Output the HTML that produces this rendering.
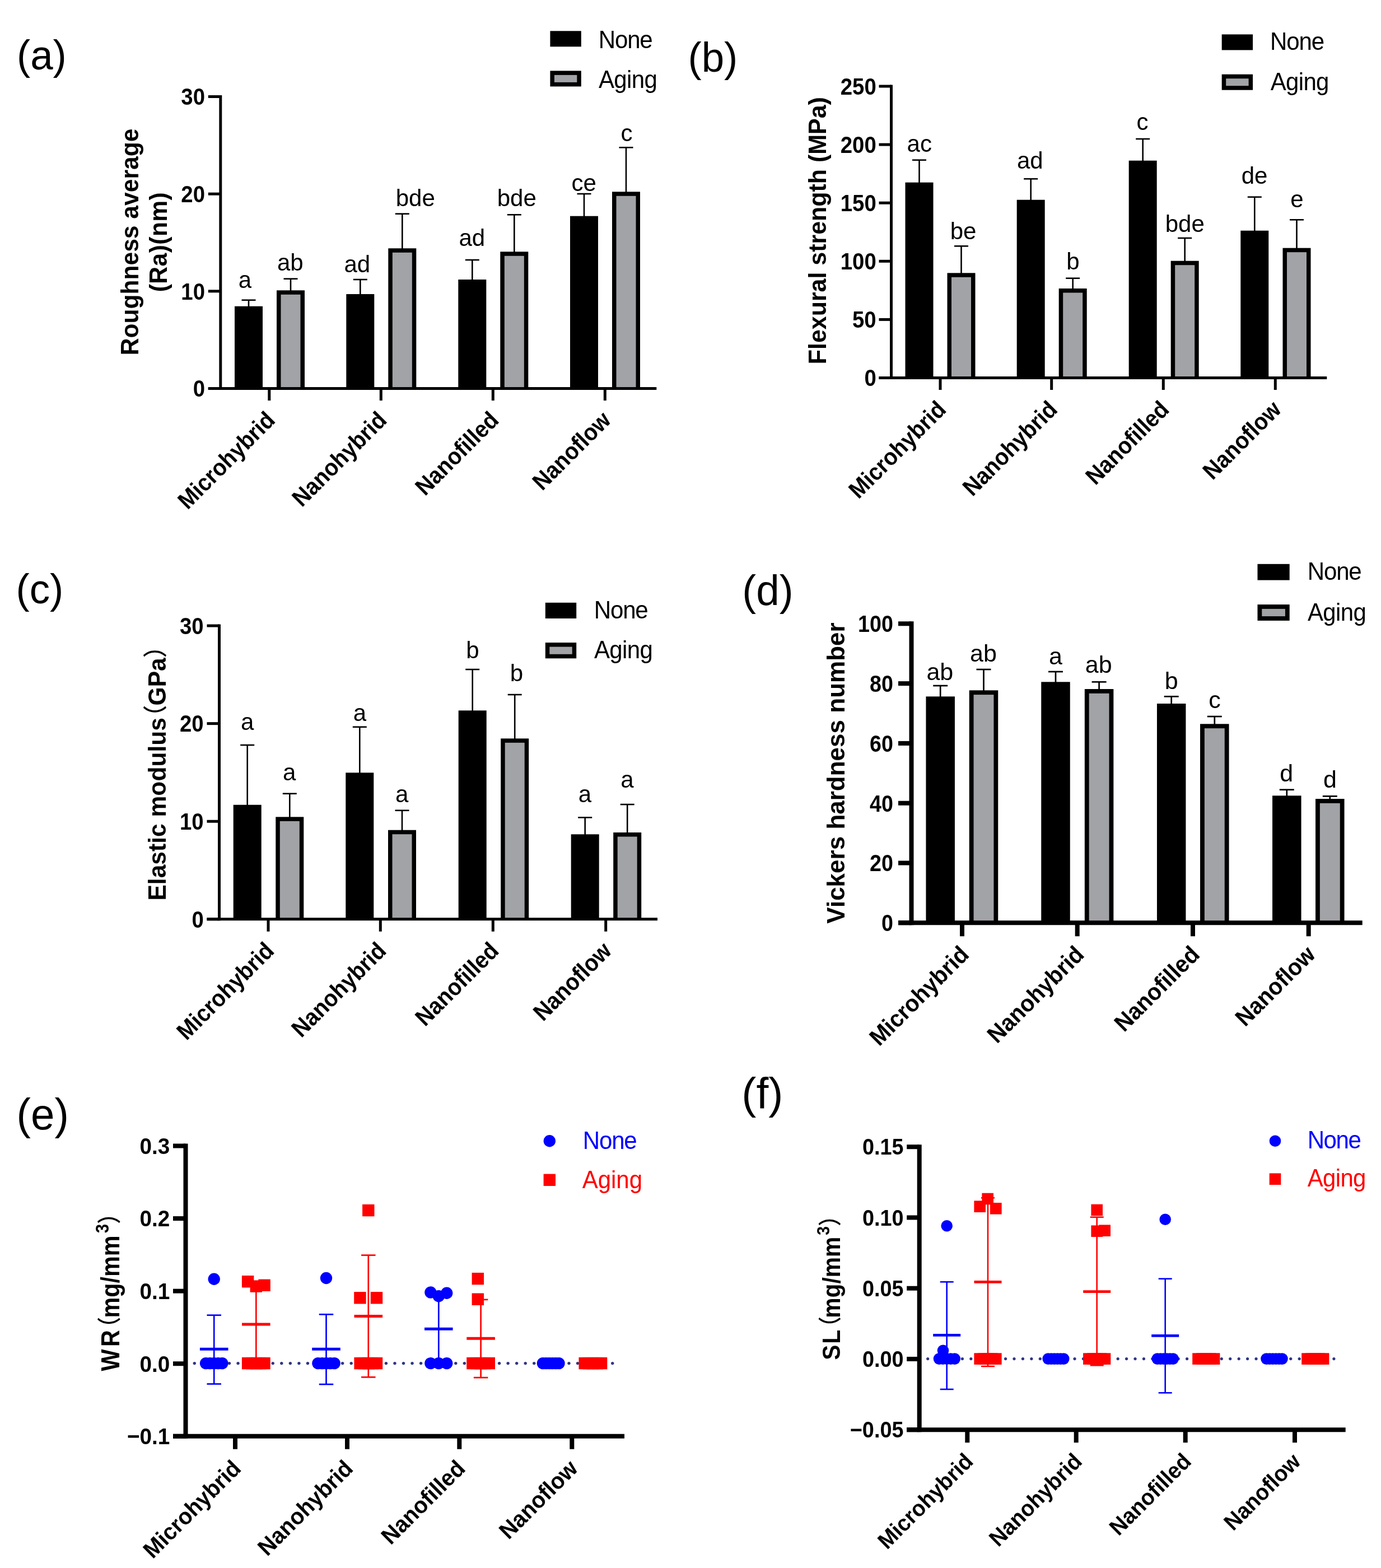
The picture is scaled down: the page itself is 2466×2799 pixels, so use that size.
<!DOCTYPE html>
<html lang="en">
<head>
<meta charset="utf-8">
<title>Figure: mechanical properties of resin composites before and after aging</title>
<style>
html,body{margin:0;padding:0;background:#fff;}
body{width:2466px;height:2799px;overflow:hidden;}
svg{display:block;}
svg text{font-family:'Liberation Sans', 'Noto Sans CJK SC', sans-serif;}
</style>
</head>
<body>
<svg width="2466" height="2799" viewBox="0 0 2466 2799">
<rect x="0" y="0" width="2466" height="2799" fill="#ffffff"/>
<line x1="444.00" y1="535.70" x2="444.00" y2="548.70" stroke="#000" stroke-width="2.6" stroke-linecap="butt"/>
<line x1="431.50" y1="535.70" x2="456.50" y2="535.70" stroke="#000" stroke-width="2.6" stroke-linecap="butt"/>
<rect x="419.00" y="546.70" width="50.00" height="146.80" fill="#000"/>
<text transform="translate(437.50,513.80)" font-size="42" font-weight="normal" text-anchor="middle" fill="#000">a</text>
<line x1="519.00" y1="497.70" x2="519.00" y2="520.30" stroke="#000" stroke-width="2.6" stroke-linecap="butt"/>
<line x1="506.50" y1="497.70" x2="531.50" y2="497.70" stroke="#000" stroke-width="2.6" stroke-linecap="butt"/>
<rect x="494.00" y="518.30" width="50.00" height="175.20" fill="#000"/>
<rect x="501.50" y="525.80" width="35.00" height="167.70" fill="#a2a3a7"/>
<text transform="translate(518.30,482.80)" font-size="42" font-weight="normal" text-anchor="middle" fill="#000">ab</text>
<line x1="643.30" y1="499.00" x2="643.30" y2="527.00" stroke="#000" stroke-width="2.6" stroke-linecap="butt"/>
<line x1="630.80" y1="499.00" x2="655.80" y2="499.00" stroke="#000" stroke-width="2.6" stroke-linecap="butt"/>
<rect x="618.30" y="525.00" width="50.00" height="168.50" fill="#000"/>
<text transform="translate(637.80,485.50)" font-size="42" font-weight="normal" text-anchor="middle" fill="#000">ad</text>
<line x1="718.30" y1="381.70" x2="718.30" y2="445.30" stroke="#000" stroke-width="2.6" stroke-linecap="butt"/>
<line x1="705.80" y1="381.70" x2="730.80" y2="381.70" stroke="#000" stroke-width="2.6" stroke-linecap="butt"/>
<rect x="693.30" y="443.30" width="50.00" height="250.20" fill="#000"/>
<rect x="700.80" y="450.80" width="35.00" height="242.70" fill="#a2a3a7"/>
<text transform="translate(741.70,368.20)" font-size="42" font-weight="normal" text-anchor="middle" fill="#000">bde</text>
<line x1="843.30" y1="464.00" x2="843.30" y2="501.00" stroke="#000" stroke-width="2.6" stroke-linecap="butt"/>
<line x1="830.80" y1="464.00" x2="855.80" y2="464.00" stroke="#000" stroke-width="2.6" stroke-linecap="butt"/>
<rect x="818.30" y="499.00" width="50.00" height="194.50" fill="#000"/>
<text transform="translate(842.80,438.80)" font-size="42" font-weight="normal" text-anchor="middle" fill="#000">ad</text>
<line x1="918.30" y1="383.30" x2="918.30" y2="451.30" stroke="#000" stroke-width="2.6" stroke-linecap="butt"/>
<line x1="905.80" y1="383.30" x2="930.80" y2="383.30" stroke="#000" stroke-width="2.6" stroke-linecap="butt"/>
<rect x="893.30" y="449.30" width="50.00" height="244.20" fill="#000"/>
<rect x="900.80" y="456.80" width="35.00" height="236.70" fill="#a2a3a7"/>
<text transform="translate(922.70,368.20)" font-size="42" font-weight="normal" text-anchor="middle" fill="#000">bde</text>
<line x1="1043.00" y1="346.00" x2="1043.00" y2="387.70" stroke="#000" stroke-width="2.6" stroke-linecap="butt"/>
<line x1="1030.50" y1="346.00" x2="1055.50" y2="346.00" stroke="#000" stroke-width="2.6" stroke-linecap="butt"/>
<rect x="1018.00" y="385.70" width="50.00" height="307.80" fill="#000"/>
<text transform="translate(1042.70,340.50)" font-size="42" font-weight="normal" text-anchor="middle" fill="#000">ce</text>
<line x1="1118.00" y1="263.30" x2="1118.00" y2="344.30" stroke="#000" stroke-width="2.6" stroke-linecap="butt"/>
<line x1="1105.50" y1="263.30" x2="1130.50" y2="263.30" stroke="#000" stroke-width="2.6" stroke-linecap="butt"/>
<rect x="1093.00" y="342.30" width="50.00" height="351.20" fill="#000"/>
<rect x="1100.50" y="349.80" width="35.00" height="343.70" fill="#a2a3a7"/>
<text transform="translate(1119.00,252.20)" font-size="42" font-weight="normal" text-anchor="middle" fill="#000">c</text>
<line x1="393.80" y1="170.00" x2="393.80" y2="696.00" stroke="#000" stroke-width="5" stroke-linecap="butt"/>
<line x1="371.80" y1="693.50" x2="1172.30" y2="693.50" stroke="#000" stroke-width="5" stroke-linecap="butt"/>
<line x1="371.80" y1="693.50" x2="393.80" y2="693.50" stroke="#000" stroke-width="5" stroke-linecap="butt"/>
<text transform="translate(366.00,708.30) scale(0.9060,1)" font-size="42.3" font-weight="bold" text-anchor="end" fill="#000">0</text>
<line x1="371.80" y1="519.83" x2="393.80" y2="519.83" stroke="#000" stroke-width="5" stroke-linecap="butt"/>
<text transform="translate(366.00,534.64) scale(0.9060,1)" font-size="42.3" font-weight="bold" text-anchor="end" fill="#000">10</text>
<line x1="371.80" y1="346.17" x2="393.80" y2="346.17" stroke="#000" stroke-width="5" stroke-linecap="butt"/>
<text transform="translate(366.00,360.97) scale(0.9060,1)" font-size="42.3" font-weight="bold" text-anchor="end" fill="#000">20</text>
<line x1="371.80" y1="172.50" x2="393.80" y2="172.50" stroke="#000" stroke-width="5" stroke-linecap="butt"/>
<text transform="translate(366.00,187.31) scale(0.9060,1)" font-size="42.3" font-weight="bold" text-anchor="end" fill="#000">30</text>
<line x1="480.80" y1="693.50" x2="480.80" y2="715.00" stroke="#000" stroke-width="5" stroke-linecap="butt"/>
<text transform="translate(493.50,752.50) rotate(-45) scale(0.9270,1)" font-size="42.3" font-weight="bold" text-anchor="end" fill="#000">Microhybrid</text>
<line x1="680.30" y1="693.50" x2="680.30" y2="715.00" stroke="#000" stroke-width="5" stroke-linecap="butt"/>
<text transform="translate(693.00,752.50) rotate(-45) scale(0.9270,1)" font-size="42.3" font-weight="bold" text-anchor="end" fill="#000">Nanohybrid</text>
<line x1="880.30" y1="693.50" x2="880.30" y2="715.00" stroke="#000" stroke-width="5" stroke-linecap="butt"/>
<text transform="translate(893.00,752.50) rotate(-45) scale(0.9270,1)" font-size="42.3" font-weight="bold" text-anchor="end" fill="#000">Nanofilled</text>
<line x1="1080.30" y1="693.50" x2="1080.30" y2="715.00" stroke="#000" stroke-width="5" stroke-linecap="butt"/>
<text transform="translate(1093.00,752.50) rotate(-45) scale(0.9270,1)" font-size="42.3" font-weight="bold" text-anchor="end" fill="#000">Nanoflow</text>
<text transform="translate(247.00,432.00) rotate(-90) scale(0.9570,1)" font-size="44.5" font-weight="bold" text-anchor="middle" fill="#000">Roughness average</text>
<text transform="translate(298.00,432.00) rotate(-90) scale(0.9570,1)" font-size="44.5" font-weight="bold" text-anchor="middle" fill="#000"><tspan letter-spacing="0.45">(Ra)(nm)</tspan></text>
<text transform="translate(30.00,123.60) scale(0.9730,1)" font-size="74.7" font-weight="normal" text-anchor="start" fill="#000">(a)</text>
<rect x="982.40" y="55.30" width="55.4" height="28" fill="#000"/>
<rect x="986.15" y="130.15" width="47.9" height="20.5" fill="#a2a3a7" stroke="#000" stroke-width="7.5"/>
<text transform="translate(1068.70,85.70) scale(0.9270,1)" font-size="45.3" font-weight="normal" text-anchor="start" fill="#000" letter-spacing="-1.2">None</text>
<text transform="translate(1069.00,156.70) scale(0.9270,1)" font-size="45.3" font-weight="normal" text-anchor="start" fill="#000" letter-spacing="-0.7">Aging</text>
<line x1="1641.50" y1="285.70" x2="1641.50" y2="327.70" stroke="#000" stroke-width="2.6" stroke-linecap="butt"/>
<line x1="1629.00" y1="285.70" x2="1654.00" y2="285.70" stroke="#000" stroke-width="2.6" stroke-linecap="butt"/>
<rect x="1616.50" y="325.70" width="50.00" height="348.80" fill="#000"/>
<text transform="translate(1641.70,270.50)" font-size="42" font-weight="normal" text-anchor="middle" fill="#000">ac</text>
<line x1="1716.50" y1="439.30" x2="1716.50" y2="489.30" stroke="#000" stroke-width="2.6" stroke-linecap="butt"/>
<line x1="1704.00" y1="439.30" x2="1729.00" y2="439.30" stroke="#000" stroke-width="2.6" stroke-linecap="butt"/>
<rect x="1691.50" y="487.30" width="50.00" height="187.20" fill="#000"/>
<rect x="1699.00" y="494.80" width="35.00" height="179.70" fill="#a2a3a7"/>
<text transform="translate(1720.00,427.20)" font-size="42" font-weight="normal" text-anchor="middle" fill="#000">be</text>
<line x1="1840.70" y1="319.30" x2="1840.70" y2="358.70" stroke="#000" stroke-width="2.6" stroke-linecap="butt"/>
<line x1="1828.20" y1="319.30" x2="1853.20" y2="319.30" stroke="#000" stroke-width="2.6" stroke-linecap="butt"/>
<rect x="1815.70" y="356.70" width="50.00" height="317.80" fill="#000"/>
<text transform="translate(1839.30,300.50)" font-size="42" font-weight="normal" text-anchor="middle" fill="#000">ad</text>
<line x1="1915.70" y1="496.70" x2="1915.70" y2="517.00" stroke="#000" stroke-width="2.6" stroke-linecap="butt"/>
<line x1="1903.20" y1="496.70" x2="1928.20" y2="496.70" stroke="#000" stroke-width="2.6" stroke-linecap="butt"/>
<rect x="1890.70" y="515.00" width="50.00" height="159.50" fill="#000"/>
<rect x="1898.20" y="522.50" width="35.00" height="152.00" fill="#a2a3a7"/>
<text transform="translate(1916.00,480.50)" font-size="42" font-weight="normal" text-anchor="middle" fill="#000">b</text>
<line x1="2040.70" y1="248.00" x2="2040.70" y2="288.70" stroke="#000" stroke-width="2.6" stroke-linecap="butt"/>
<line x1="2028.20" y1="248.00" x2="2053.20" y2="248.00" stroke="#000" stroke-width="2.6" stroke-linecap="butt"/>
<rect x="2015.70" y="286.70" width="50.00" height="387.80" fill="#000"/>
<text transform="translate(2040.00,231.50)" font-size="42" font-weight="normal" text-anchor="middle" fill="#000">c</text>
<line x1="2115.70" y1="425.00" x2="2115.70" y2="467.70" stroke="#000" stroke-width="2.6" stroke-linecap="butt"/>
<line x1="2103.20" y1="425.00" x2="2128.20" y2="425.00" stroke="#000" stroke-width="2.6" stroke-linecap="butt"/>
<rect x="2090.70" y="465.70" width="50.00" height="208.80" fill="#000"/>
<rect x="2098.20" y="473.20" width="35.00" height="201.30" fill="#a2a3a7"/>
<text transform="translate(2115.70,413.80)" font-size="42" font-weight="normal" text-anchor="middle" fill="#000">bde</text>
<line x1="2240.30" y1="351.70" x2="2240.30" y2="413.70" stroke="#000" stroke-width="2.6" stroke-linecap="butt"/>
<line x1="2227.80" y1="351.70" x2="2252.80" y2="351.70" stroke="#000" stroke-width="2.6" stroke-linecap="butt"/>
<rect x="2215.30" y="411.70" width="50.00" height="262.80" fill="#000"/>
<text transform="translate(2240.00,328.20)" font-size="42" font-weight="normal" text-anchor="middle" fill="#000">de</text>
<line x1="2315.50" y1="392.30" x2="2315.50" y2="444.70" stroke="#000" stroke-width="2.6" stroke-linecap="butt"/>
<line x1="2303.00" y1="392.30" x2="2328.00" y2="392.30" stroke="#000" stroke-width="2.6" stroke-linecap="butt"/>
<rect x="2290.50" y="442.70" width="50.00" height="231.80" fill="#000"/>
<rect x="2298.00" y="450.20" width="35.00" height="224.30" fill="#a2a3a7"/>
<text transform="translate(2316.00,369.80)" font-size="42" font-weight="normal" text-anchor="middle" fill="#000">e</text>
<line x1="1591.50" y1="151.50" x2="1591.50" y2="677.00" stroke="#000" stroke-width="5" stroke-linecap="butt"/>
<line x1="1569.50" y1="674.50" x2="2369.30" y2="674.50" stroke="#000" stroke-width="5" stroke-linecap="butt"/>
<line x1="1569.50" y1="674.50" x2="1591.50" y2="674.50" stroke="#000" stroke-width="5" stroke-linecap="butt"/>
<text transform="translate(1564.70,689.30) scale(0.9060,1)" font-size="42.3" font-weight="bold" text-anchor="end" fill="#000">0</text>
<line x1="1569.50" y1="570.40" x2="1591.50" y2="570.40" stroke="#000" stroke-width="5" stroke-linecap="butt"/>
<text transform="translate(1564.70,585.20) scale(0.9060,1)" font-size="42.3" font-weight="bold" text-anchor="end" fill="#000">50</text>
<line x1="1569.50" y1="466.30" x2="1591.50" y2="466.30" stroke="#000" stroke-width="5" stroke-linecap="butt"/>
<text transform="translate(1564.70,481.11) scale(0.9060,1)" font-size="42.3" font-weight="bold" text-anchor="end" fill="#000">100</text>
<line x1="1569.50" y1="362.20" x2="1591.50" y2="362.20" stroke="#000" stroke-width="5" stroke-linecap="butt"/>
<text transform="translate(1564.70,377.00) scale(0.9060,1)" font-size="42.3" font-weight="bold" text-anchor="end" fill="#000">150</text>
<line x1="1569.50" y1="258.10" x2="1591.50" y2="258.10" stroke="#000" stroke-width="5" stroke-linecap="butt"/>
<text transform="translate(1564.70,272.91) scale(0.9060,1)" font-size="42.3" font-weight="bold" text-anchor="end" fill="#000">200</text>
<line x1="1569.50" y1="154.00" x2="1591.50" y2="154.00" stroke="#000" stroke-width="5" stroke-linecap="butt"/>
<text transform="translate(1564.70,168.81) scale(0.9060,1)" font-size="42.3" font-weight="bold" text-anchor="end" fill="#000">250</text>
<line x1="1679.00" y1="674.50" x2="1679.00" y2="696.00" stroke="#000" stroke-width="5" stroke-linecap="butt"/>
<text transform="translate(1691.70,733.50) rotate(-45) scale(0.9270,1)" font-size="42.3" font-weight="bold" text-anchor="end" fill="#000">Microhybrid</text>
<line x1="1877.70" y1="674.50" x2="1877.70" y2="696.00" stroke="#000" stroke-width="5" stroke-linecap="butt"/>
<text transform="translate(1890.40,733.50) rotate(-45) scale(0.9270,1)" font-size="42.3" font-weight="bold" text-anchor="end" fill="#000">Nanohybrid</text>
<line x1="2077.30" y1="674.50" x2="2077.30" y2="696.00" stroke="#000" stroke-width="5" stroke-linecap="butt"/>
<text transform="translate(2090.00,733.50) rotate(-45) scale(0.9270,1)" font-size="42.3" font-weight="bold" text-anchor="end" fill="#000">Nanofilled</text>
<line x1="2277.30" y1="674.50" x2="2277.30" y2="696.00" stroke="#000" stroke-width="5" stroke-linecap="butt"/>
<text transform="translate(2290.00,733.50) rotate(-45) scale(0.9270,1)" font-size="42.3" font-weight="bold" text-anchor="end" fill="#000">Nanoflow</text>
<text transform="translate(1475.00,411.70) rotate(-90) scale(0.9650,1)" font-size="44.5" font-weight="bold" text-anchor="middle" fill="#000">Flexural strength (MPa)</text>
<text transform="translate(1228.50,127.80) scale(0.9730,1)" font-size="74.7" font-weight="normal" text-anchor="start" fill="#000">(b)</text>
<rect x="2181.70" y="61.40" width="55.4" height="28" fill="#000"/>
<rect x="2185.45" y="136.45" width="47.9" height="20.5" fill="#a2a3a7" stroke="#000" stroke-width="7.5"/>
<text transform="translate(2268.00,89.30) scale(0.9270,1)" font-size="45.3" font-weight="normal" text-anchor="start" fill="#000" letter-spacing="-1.2">None</text>
<text transform="translate(2268.70,160.70) scale(0.9270,1)" font-size="45.3" font-weight="normal" text-anchor="start" fill="#000" letter-spacing="-0.7">Aging</text>
<line x1="441.70" y1="1330.00" x2="441.70" y2="1438.70" stroke="#000" stroke-width="2.6" stroke-linecap="butt"/>
<line x1="429.20" y1="1330.00" x2="454.20" y2="1330.00" stroke="#000" stroke-width="2.6" stroke-linecap="butt"/>
<rect x="416.70" y="1436.70" width="50.00" height="204.10" fill="#000"/>
<text transform="translate(441.70,1302.80)" font-size="42" font-weight="normal" text-anchor="middle" fill="#000">a</text>
<line x1="517.30" y1="1416.70" x2="517.30" y2="1460.30" stroke="#000" stroke-width="2.6" stroke-linecap="butt"/>
<line x1="504.80" y1="1416.70" x2="529.80" y2="1416.70" stroke="#000" stroke-width="2.6" stroke-linecap="butt"/>
<rect x="492.30" y="1458.30" width="50.00" height="182.50" fill="#000"/>
<rect x="499.80" y="1465.80" width="35.00" height="175.00" fill="#a2a3a7"/>
<text transform="translate(516.70,1392.80)" font-size="42" font-weight="normal" text-anchor="middle" fill="#000">a</text>
<line x1="642.30" y1="1297.70" x2="642.30" y2="1381.30" stroke="#000" stroke-width="2.6" stroke-linecap="butt"/>
<line x1="629.80" y1="1297.70" x2="654.80" y2="1297.70" stroke="#000" stroke-width="2.6" stroke-linecap="butt"/>
<rect x="617.30" y="1379.30" width="50.00" height="261.50" fill="#000"/>
<text transform="translate(642.30,1287.20)" font-size="42" font-weight="normal" text-anchor="middle" fill="#000">a</text>
<line x1="718.00" y1="1446.70" x2="718.00" y2="1483.70" stroke="#000" stroke-width="2.6" stroke-linecap="butt"/>
<line x1="705.50" y1="1446.70" x2="730.50" y2="1446.70" stroke="#000" stroke-width="2.6" stroke-linecap="butt"/>
<rect x="693.00" y="1481.70" width="50.00" height="159.10" fill="#000"/>
<rect x="700.50" y="1489.20" width="35.00" height="151.60" fill="#a2a3a7"/>
<text transform="translate(717.70,1432.20)" font-size="42" font-weight="normal" text-anchor="middle" fill="#000">a</text>
<line x1="843.70" y1="1195.00" x2="843.70" y2="1270.30" stroke="#000" stroke-width="2.6" stroke-linecap="butt"/>
<line x1="831.20" y1="1195.00" x2="856.20" y2="1195.00" stroke="#000" stroke-width="2.6" stroke-linecap="butt"/>
<rect x="818.70" y="1268.30" width="50.00" height="372.50" fill="#000"/>
<text transform="translate(844.00,1174.50)" font-size="42" font-weight="normal" text-anchor="middle" fill="#000">b</text>
<line x1="919.20" y1="1240.00" x2="919.20" y2="1320.30" stroke="#000" stroke-width="2.6" stroke-linecap="butt"/>
<line x1="906.70" y1="1240.00" x2="931.70" y2="1240.00" stroke="#000" stroke-width="2.6" stroke-linecap="butt"/>
<rect x="894.20" y="1318.30" width="50.00" height="322.50" fill="#000"/>
<rect x="901.70" y="1325.80" width="35.00" height="315.00" fill="#a2a3a7"/>
<text transform="translate(922.30,1216.20)" font-size="42" font-weight="normal" text-anchor="middle" fill="#000">b</text>
<line x1="1044.70" y1="1459.30" x2="1044.70" y2="1491.30" stroke="#000" stroke-width="2.6" stroke-linecap="butt"/>
<line x1="1032.20" y1="1459.30" x2="1057.20" y2="1459.30" stroke="#000" stroke-width="2.6" stroke-linecap="butt"/>
<rect x="1019.70" y="1489.30" width="50.00" height="151.50" fill="#000"/>
<text transform="translate(1044.30,1432.20)" font-size="42" font-weight="normal" text-anchor="middle" fill="#000">a</text>
<line x1="1120.20" y1="1436.00" x2="1120.20" y2="1488.00" stroke="#000" stroke-width="2.6" stroke-linecap="butt"/>
<line x1="1107.70" y1="1436.00" x2="1132.70" y2="1436.00" stroke="#000" stroke-width="2.6" stroke-linecap="butt"/>
<rect x="1095.20" y="1486.00" width="50.00" height="154.80" fill="#000"/>
<rect x="1102.70" y="1493.50" width="35.00" height="147.30" fill="#a2a3a7"/>
<text transform="translate(1120.00,1405.50)" font-size="42" font-weight="normal" text-anchor="middle" fill="#000">a</text>
<line x1="391.50" y1="1114.50" x2="391.50" y2="1643.30" stroke="#000" stroke-width="5" stroke-linecap="butt"/>
<line x1="369.50" y1="1640.80" x2="1174.00" y2="1640.80" stroke="#000" stroke-width="5" stroke-linecap="butt"/>
<line x1="369.50" y1="1640.80" x2="391.50" y2="1640.80" stroke="#000" stroke-width="5" stroke-linecap="butt"/>
<text transform="translate(363.70,1655.61) scale(0.9060,1)" font-size="42.3" font-weight="bold" text-anchor="end" fill="#000">0</text>
<line x1="369.50" y1="1466.20" x2="391.50" y2="1466.20" stroke="#000" stroke-width="5" stroke-linecap="butt"/>
<text transform="translate(363.70,1481.01) scale(0.9060,1)" font-size="42.3" font-weight="bold" text-anchor="end" fill="#000">10</text>
<line x1="369.50" y1="1291.60" x2="391.50" y2="1291.60" stroke="#000" stroke-width="5" stroke-linecap="butt"/>
<text transform="translate(363.70,1306.40) scale(0.9060,1)" font-size="42.3" font-weight="bold" text-anchor="end" fill="#000">20</text>
<line x1="369.50" y1="1117.00" x2="391.50" y2="1117.00" stroke="#000" stroke-width="5" stroke-linecap="butt"/>
<text transform="translate(363.70,1131.81) scale(0.9060,1)" font-size="42.3" font-weight="bold" text-anchor="end" fill="#000">30</text>
<line x1="479.00" y1="1640.80" x2="479.00" y2="1662.80" stroke="#000" stroke-width="5" stroke-linecap="butt"/>
<text transform="translate(491.70,1699.80) rotate(-45) scale(0.9270,1)" font-size="42.3" font-weight="bold" text-anchor="end" fill="#000">Microhybrid</text>
<line x1="679.30" y1="1640.80" x2="679.30" y2="1662.80" stroke="#000" stroke-width="5" stroke-linecap="butt"/>
<text transform="translate(692.00,1699.80) rotate(-45) scale(0.9270,1)" font-size="42.3" font-weight="bold" text-anchor="end" fill="#000">Nanohybrid</text>
<line x1="880.30" y1="1640.80" x2="880.30" y2="1662.80" stroke="#000" stroke-width="5" stroke-linecap="butt"/>
<text transform="translate(893.00,1699.80) rotate(-45) scale(0.9270,1)" font-size="42.3" font-weight="bold" text-anchor="end" fill="#000">Nanofilled</text>
<line x1="1081.70" y1="1640.80" x2="1081.70" y2="1662.80" stroke="#000" stroke-width="5" stroke-linecap="butt"/>
<text transform="translate(1094.40,1699.80) rotate(-45) scale(0.9270,1)" font-size="42.3" font-weight="bold" text-anchor="end" fill="#000">Nanoflow</text>
<text transform="translate(296.00,1607.60) rotate(-90) scale(0.9570,1)" font-size="44.5" font-weight="bold" text-anchor="start" fill="#000">Elastic modulus<tspan dx="-19.6" dy="-3.5" font-size="43" font-weight="500">（</tspan><tspan dx="-0.8" dy="3.5">GPa</tspan><tspan dx="0" dy="-3.5" font-size="43" font-weight="500">）</tspan></text>
<text transform="translate(28.50,1077.00) scale(0.9730,1)" font-size="74.7" font-weight="normal" text-anchor="start" fill="#000">(c)</text>
<rect x="973.80" y="1075.80" width="55.4" height="28.2" fill="#000"/>
<rect x="977.55" y="1150.85" width="47.9" height="20.7" fill="#a2a3a7" stroke="#000" stroke-width="7.5"/>
<text transform="translate(1060.70,1104.00) scale(0.9270,1)" font-size="45.3" font-weight="normal" text-anchor="start" fill="#000" letter-spacing="-1.2">None</text>
<text transform="translate(1061.00,1175.30) scale(0.9270,1)" font-size="45.3" font-weight="normal" text-anchor="start" fill="#000" letter-spacing="-0.7">Aging</text>
<line x1="1679.20" y1="1224.00" x2="1679.20" y2="1245.30" stroke="#000" stroke-width="2.7" stroke-linecap="butt"/>
<line x1="1666.20" y1="1224.00" x2="1692.20" y2="1224.00" stroke="#000" stroke-width="2.7" stroke-linecap="butt"/>
<rect x="1653.45" y="1243.30" width="51.50" height="404.00" fill="#000"/>
<text transform="translate(1678.30,1213.80)" font-size="43" font-weight="normal" text-anchor="middle" fill="#000">ab</text>
<line x1="1756.50" y1="1195.00" x2="1756.50" y2="1234.30" stroke="#000" stroke-width="2.7" stroke-linecap="butt"/>
<line x1="1743.50" y1="1195.00" x2="1769.50" y2="1195.00" stroke="#000" stroke-width="2.7" stroke-linecap="butt"/>
<rect x="1730.75" y="1232.30" width="51.50" height="415.00" fill="#000"/>
<rect x="1738.55" y="1240.10" width="35.90" height="407.20" fill="#a2a3a7"/>
<text transform="translate(1756.00,1180.50)" font-size="43" font-weight="normal" text-anchor="middle" fill="#000">ab</text>
<line x1="1885.00" y1="1199.00" x2="1885.00" y2="1219.30" stroke="#000" stroke-width="2.7" stroke-linecap="butt"/>
<line x1="1872.00" y1="1199.00" x2="1898.00" y2="1199.00" stroke="#000" stroke-width="2.7" stroke-linecap="butt"/>
<rect x="1859.25" y="1217.30" width="51.50" height="430.00" fill="#000"/>
<text transform="translate(1885.00,1186.20)" font-size="43" font-weight="normal" text-anchor="middle" fill="#000">a</text>
<line x1="1962.60" y1="1217.30" x2="1962.60" y2="1232.00" stroke="#000" stroke-width="2.7" stroke-linecap="butt"/>
<line x1="1949.60" y1="1217.30" x2="1975.60" y2="1217.30" stroke="#000" stroke-width="2.7" stroke-linecap="butt"/>
<rect x="1936.85" y="1230.00" width="51.50" height="417.30" fill="#000"/>
<rect x="1944.65" y="1237.80" width="35.90" height="409.50" fill="#a2a3a7"/>
<text transform="translate(1961.70,1200.50)" font-size="43" font-weight="normal" text-anchor="middle" fill="#000">ab</text>
<line x1="2091.70" y1="1243.30" x2="2091.70" y2="1258.00" stroke="#000" stroke-width="2.7" stroke-linecap="butt"/>
<line x1="2078.70" y1="1243.30" x2="2104.70" y2="1243.30" stroke="#000" stroke-width="2.7" stroke-linecap="butt"/>
<rect x="2065.95" y="1256.00" width="51.50" height="391.30" fill="#000"/>
<text transform="translate(2091.70,1229.80)" font-size="43" font-weight="normal" text-anchor="middle" fill="#000">b</text>
<line x1="2168.80" y1="1279.00" x2="2168.80" y2="1294.30" stroke="#000" stroke-width="2.7" stroke-linecap="butt"/>
<line x1="2155.80" y1="1279.00" x2="2181.80" y2="1279.00" stroke="#000" stroke-width="2.7" stroke-linecap="butt"/>
<rect x="2143.05" y="1292.30" width="51.50" height="355.00" fill="#000"/>
<rect x="2150.85" y="1300.10" width="35.90" height="347.20" fill="#a2a3a7"/>
<text transform="translate(2169.00,1263.80)" font-size="43" font-weight="normal" text-anchor="middle" fill="#000">c</text>
<line x1="2297.80" y1="1409.70" x2="2297.80" y2="1422.30" stroke="#000" stroke-width="2.7" stroke-linecap="butt"/>
<line x1="2284.80" y1="1409.70" x2="2310.80" y2="1409.70" stroke="#000" stroke-width="2.7" stroke-linecap="butt"/>
<rect x="2272.05" y="1420.30" width="51.50" height="227.00" fill="#000"/>
<text transform="translate(2297.30,1394.80)" font-size="43" font-weight="normal" text-anchor="middle" fill="#000">d</text>
<line x1="2374.80" y1="1421.30" x2="2374.80" y2="1428.00" stroke="#000" stroke-width="2.7" stroke-linecap="butt"/>
<line x1="2361.80" y1="1421.30" x2="2387.80" y2="1421.30" stroke="#000" stroke-width="2.7" stroke-linecap="butt"/>
<rect x="2349.05" y="1426.00" width="51.50" height="221.30" fill="#000"/>
<rect x="2356.85" y="1433.80" width="35.90" height="213.50" fill="#a2a3a7"/>
<text transform="translate(2375.00,1405.50)" font-size="43" font-weight="normal" text-anchor="middle" fill="#000">d</text>
<line x1="1627.50" y1="1109.30" x2="1627.50" y2="1651.30" stroke="#000" stroke-width="8" stroke-linecap="butt"/>
<line x1="1604.00" y1="1647.30" x2="2432.70" y2="1647.30" stroke="#000" stroke-width="8" stroke-linecap="butt"/>
<line x1="1604.00" y1="1647.30" x2="1627.50" y2="1647.30" stroke="#000" stroke-width="8" stroke-linecap="butt"/>
<text transform="translate(1594.90,1662.11) scale(0.8900,1)" font-size="42.3" font-weight="bold" text-anchor="end" fill="#000">0</text>
<line x1="1604.00" y1="1540.50" x2="1627.50" y2="1540.50" stroke="#000" stroke-width="8" stroke-linecap="butt"/>
<text transform="translate(1594.90,1555.31) scale(0.8900,1)" font-size="42.3" font-weight="bold" text-anchor="end" fill="#000">20</text>
<line x1="1604.00" y1="1433.70" x2="1627.50" y2="1433.70" stroke="#000" stroke-width="8" stroke-linecap="butt"/>
<text transform="translate(1594.90,1448.51) scale(0.8900,1)" font-size="42.3" font-weight="bold" text-anchor="end" fill="#000">40</text>
<line x1="1604.00" y1="1326.90" x2="1627.50" y2="1326.90" stroke="#000" stroke-width="8" stroke-linecap="butt"/>
<text transform="translate(1594.90,1341.71) scale(0.8900,1)" font-size="42.3" font-weight="bold" text-anchor="end" fill="#000">60</text>
<line x1="1604.00" y1="1220.10" x2="1627.50" y2="1220.10" stroke="#000" stroke-width="8" stroke-linecap="butt"/>
<text transform="translate(1594.90,1234.90) scale(0.8900,1)" font-size="42.3" font-weight="bold" text-anchor="end" fill="#000">80</text>
<line x1="1604.00" y1="1113.30" x2="1627.50" y2="1113.30" stroke="#000" stroke-width="8" stroke-linecap="butt"/>
<text transform="translate(1594.90,1128.11) scale(0.8900,1)" font-size="42.3" font-weight="bold" text-anchor="end" fill="#000">100</text>
<line x1="1718.00" y1="1647.30" x2="1718.00" y2="1671.30" stroke="#000" stroke-width="8" stroke-linecap="butt"/>
<text transform="translate(1732.50,1706.50) rotate(-45) scale(0.9500,1)" font-size="42.3" font-weight="bold" text-anchor="end" fill="#000">Microhybrid</text>
<line x1="1923.70" y1="1647.30" x2="1923.70" y2="1671.30" stroke="#000" stroke-width="8" stroke-linecap="butt"/>
<text transform="translate(1938.20,1706.50) rotate(-45) scale(0.9500,1)" font-size="42.3" font-weight="bold" text-anchor="end" fill="#000">Nanohybrid</text>
<line x1="2130.00" y1="1647.30" x2="2130.00" y2="1671.30" stroke="#000" stroke-width="8" stroke-linecap="butt"/>
<text transform="translate(2144.50,1706.50) rotate(-45) scale(0.9500,1)" font-size="42.3" font-weight="bold" text-anchor="end" fill="#000">Nanofilled</text>
<line x1="2336.70" y1="1647.30" x2="2336.70" y2="1671.30" stroke="#000" stroke-width="8" stroke-linecap="butt"/>
<text transform="translate(2351.20,1706.50) rotate(-45) scale(0.9500,1)" font-size="42.3" font-weight="bold" text-anchor="end" fill="#000">Nanoflow</text>
<text transform="translate(1507.50,1380.00) rotate(-90) scale(0.9890,1)" font-size="44.5" font-weight="bold" text-anchor="middle" fill="#000">Vickers hardness number</text>
<text transform="translate(1325.30,1080.30) scale(0.9730,1)" font-size="76.8" font-weight="normal" text-anchor="start" fill="#000">(d)</text>
<rect x="2245.50" y="1006.80" width="57.2" height="28.8" fill="#000"/>
<rect x="2249.40" y="1083.00" width="49.400000000000006" height="21.0" fill="#a2a3a7" stroke="#000" stroke-width="7.8"/>
<text transform="translate(2334.70,1035.30) scale(0.9270,1)" font-size="45.3" font-weight="normal" text-anchor="start" fill="#000" letter-spacing="-1.2">None</text>
<text transform="translate(2335.00,1108.00) scale(0.9270,1)" font-size="45.3" font-weight="normal" text-anchor="start" fill="#000" letter-spacing="-0.7">Aging</text>
<circle cx="347.30" cy="2433.60" r="2.7" fill="#2e3584"/>
<circle cx="362.85" cy="2433.60" r="2.7" fill="#2e3584"/>
<circle cx="378.40" cy="2433.60" r="2.7" fill="#2e3584"/>
<circle cx="393.95" cy="2433.60" r="2.7" fill="#2e3584"/>
<circle cx="409.50" cy="2433.60" r="2.7" fill="#2e3584"/>
<circle cx="425.05" cy="2433.60" r="2.7" fill="#2e3584"/>
<circle cx="440.60" cy="2433.60" r="2.7" fill="#2e3584"/>
<circle cx="456.15" cy="2433.60" r="2.7" fill="#2e3584"/>
<circle cx="471.70" cy="2433.60" r="2.7" fill="#2e3584"/>
<circle cx="487.25" cy="2433.60" r="2.7" fill="#2e3584"/>
<circle cx="502.80" cy="2433.60" r="2.7" fill="#2e3584"/>
<circle cx="518.35" cy="2433.60" r="2.7" fill="#2e3584"/>
<circle cx="533.90" cy="2433.60" r="2.7" fill="#2e3584"/>
<circle cx="549.45" cy="2433.60" r="2.7" fill="#2e3584"/>
<circle cx="565.00" cy="2433.60" r="2.7" fill="#2e3584"/>
<circle cx="580.55" cy="2433.60" r="2.7" fill="#2e3584"/>
<circle cx="596.10" cy="2433.60" r="2.7" fill="#2e3584"/>
<circle cx="611.65" cy="2433.60" r="2.7" fill="#2e3584"/>
<circle cx="627.20" cy="2433.60" r="2.7" fill="#2e3584"/>
<circle cx="642.75" cy="2433.60" r="2.7" fill="#2e3584"/>
<circle cx="658.30" cy="2433.60" r="2.7" fill="#2e3584"/>
<circle cx="673.85" cy="2433.60" r="2.7" fill="#2e3584"/>
<circle cx="689.40" cy="2433.60" r="2.7" fill="#2e3584"/>
<circle cx="704.95" cy="2433.60" r="2.7" fill="#2e3584"/>
<circle cx="720.50" cy="2433.60" r="2.7" fill="#2e3584"/>
<circle cx="736.05" cy="2433.60" r="2.7" fill="#2e3584"/>
<circle cx="751.60" cy="2433.60" r="2.7" fill="#2e3584"/>
<circle cx="767.15" cy="2433.60" r="2.7" fill="#2e3584"/>
<circle cx="782.70" cy="2433.60" r="2.7" fill="#2e3584"/>
<circle cx="798.25" cy="2433.60" r="2.7" fill="#2e3584"/>
<circle cx="813.80" cy="2433.60" r="2.7" fill="#2e3584"/>
<circle cx="829.35" cy="2433.60" r="2.7" fill="#2e3584"/>
<circle cx="844.90" cy="2433.60" r="2.7" fill="#2e3584"/>
<circle cx="860.45" cy="2433.60" r="2.7" fill="#2e3584"/>
<circle cx="876.00" cy="2433.60" r="2.7" fill="#2e3584"/>
<circle cx="891.55" cy="2433.60" r="2.7" fill="#2e3584"/>
<circle cx="907.10" cy="2433.60" r="2.7" fill="#2e3584"/>
<circle cx="922.65" cy="2433.60" r="2.7" fill="#2e3584"/>
<circle cx="938.20" cy="2433.60" r="2.7" fill="#2e3584"/>
<circle cx="953.75" cy="2433.60" r="2.7" fill="#2e3584"/>
<circle cx="969.30" cy="2433.60" r="2.7" fill="#2e3584"/>
<circle cx="984.85" cy="2433.60" r="2.7" fill="#2e3584"/>
<circle cx="1000.40" cy="2433.60" r="2.7" fill="#2e3584"/>
<circle cx="1015.95" cy="2433.60" r="2.7" fill="#2e3584"/>
<circle cx="1031.50" cy="2433.60" r="2.7" fill="#2e3584"/>
<circle cx="1047.05" cy="2433.60" r="2.7" fill="#2e3584"/>
<circle cx="1062.60" cy="2433.60" r="2.7" fill="#2e3584"/>
<circle cx="1078.15" cy="2433.60" r="2.7" fill="#2e3584"/>
<circle cx="1093.70" cy="2433.60" r="2.7" fill="#2e3584"/>
<line x1="382.20" y1="2347.70" x2="382.20" y2="2470.50" stroke="#0000ff" stroke-width="2.7" stroke-linecap="butt"/>
<line x1="369.45" y1="2347.70" x2="394.95" y2="2347.70" stroke="#0000ff" stroke-width="2.7" stroke-linecap="butt"/>
<line x1="369.45" y1="2470.50" x2="394.95" y2="2470.50" stroke="#0000ff" stroke-width="2.7" stroke-linecap="butt"/>
<line x1="356.90" y1="2408.30" x2="407.50" y2="2408.30" stroke="#0000ff" stroke-width="5" stroke-linecap="butt"/>
<circle cx="367.60" cy="2433.60" r="10.7" fill="#0000ff"/>
<circle cx="374.90" cy="2433.60" r="10.7" fill="#0000ff"/>
<circle cx="382.20" cy="2433.60" r="10.7" fill="#0000ff"/>
<circle cx="389.50" cy="2433.60" r="10.7" fill="#0000ff"/>
<circle cx="396.80" cy="2433.60" r="10.7" fill="#0000ff"/>
<circle cx="382.20" cy="2283.20" r="10.7" fill="#0000ff"/>
<line x1="457.30" y1="2290.00" x2="457.30" y2="2437.00" stroke="#ff0000" stroke-width="2.7" stroke-linecap="butt"/>
<line x1="432.00" y1="2363.90" x2="482.60" y2="2363.90" stroke="#ff0000" stroke-width="5" stroke-linecap="butt"/>
<rect x="431.90" y="2422.90" width="21.4" height="21.4" fill="#ff0000"/>
<rect x="439.25" y="2422.90" width="21.4" height="21.4" fill="#ff0000"/>
<rect x="446.60" y="2422.90" width="21.4" height="21.4" fill="#ff0000"/>
<rect x="453.95" y="2422.90" width="21.4" height="21.4" fill="#ff0000"/>
<rect x="461.30" y="2422.90" width="21.4" height="21.4" fill="#ff0000"/>
<rect x="431.90" y="2277.00" width="21.4" height="21.4" fill="#ff0000"/>
<rect x="446.60" y="2285.40" width="21.4" height="21.4" fill="#ff0000"/>
<rect x="461.40" y="2283.60" width="21.4" height="21.4" fill="#ff0000"/>
<line x1="582.50" y1="2346.30" x2="582.50" y2="2471.10" stroke="#0000ff" stroke-width="2.7" stroke-linecap="butt"/>
<line x1="569.75" y1="2346.30" x2="595.25" y2="2346.30" stroke="#0000ff" stroke-width="2.7" stroke-linecap="butt"/>
<line x1="569.75" y1="2471.10" x2="595.25" y2="2471.10" stroke="#0000ff" stroke-width="2.7" stroke-linecap="butt"/>
<line x1="557.20" y1="2408.30" x2="607.80" y2="2408.30" stroke="#0000ff" stroke-width="5" stroke-linecap="butt"/>
<circle cx="567.90" cy="2433.60" r="10.7" fill="#0000ff"/>
<circle cx="575.20" cy="2433.60" r="10.7" fill="#0000ff"/>
<circle cx="582.50" cy="2433.60" r="10.7" fill="#0000ff"/>
<circle cx="589.80" cy="2433.60" r="10.7" fill="#0000ff"/>
<circle cx="597.10" cy="2433.60" r="10.7" fill="#0000ff"/>
<circle cx="582.50" cy="2281.50" r="10.7" fill="#0000ff"/>
<line x1="657.80" y1="2240.60" x2="657.80" y2="2458.30" stroke="#ff0000" stroke-width="2.7" stroke-linecap="butt"/>
<line x1="645.05" y1="2240.60" x2="670.55" y2="2240.60" stroke="#ff0000" stroke-width="2.7" stroke-linecap="butt"/>
<line x1="645.05" y1="2458.30" x2="670.55" y2="2458.30" stroke="#ff0000" stroke-width="2.7" stroke-linecap="butt"/>
<line x1="632.50" y1="2349.40" x2="683.10" y2="2349.40" stroke="#ff0000" stroke-width="5" stroke-linecap="butt"/>
<rect x="632.40" y="2422.90" width="21.4" height="21.4" fill="#ff0000"/>
<rect x="639.75" y="2422.90" width="21.4" height="21.4" fill="#ff0000"/>
<rect x="647.10" y="2422.90" width="21.4" height="21.4" fill="#ff0000"/>
<rect x="654.45" y="2422.90" width="21.4" height="21.4" fill="#ff0000"/>
<rect x="661.80" y="2422.90" width="21.4" height="21.4" fill="#ff0000"/>
<rect x="632.20" y="2306.10" width="21.4" height="21.4" fill="#ff0000"/>
<rect x="661.80" y="2306.10" width="21.4" height="21.4" fill="#ff0000"/>
<rect x="647.10" y="2149.90" width="21.4" height="21.4" fill="#ff0000"/>
<line x1="783.30" y1="2313.70" x2="783.30" y2="2433.00" stroke="#0000ff" stroke-width="2.7" stroke-linecap="butt"/>
<line x1="758.00" y1="2372.30" x2="808.60" y2="2372.30" stroke="#0000ff" stroke-width="5" stroke-linecap="butt"/>
<circle cx="768.90" cy="2433.60" r="10.7" fill="#0000ff"/>
<circle cx="783.30" cy="2433.60" r="10.7" fill="#0000ff"/>
<circle cx="797.70" cy="2433.60" r="10.7" fill="#0000ff"/>
<circle cx="768.90" cy="2307.00" r="10.7" fill="#0000ff"/>
<circle cx="783.30" cy="2313.70" r="10.7" fill="#0000ff"/>
<circle cx="797.70" cy="2308.30" r="10.7" fill="#0000ff"/>
<line x1="858.60" y1="2319.90" x2="858.60" y2="2459.10" stroke="#ff0000" stroke-width="2.7" stroke-linecap="butt"/>
<line x1="845.85" y1="2319.90" x2="871.35" y2="2319.90" stroke="#ff0000" stroke-width="2.7" stroke-linecap="butt"/>
<line x1="845.85" y1="2459.10" x2="871.35" y2="2459.10" stroke="#ff0000" stroke-width="2.7" stroke-linecap="butt"/>
<line x1="833.30" y1="2389.20" x2="883.90" y2="2389.20" stroke="#ff0000" stroke-width="5" stroke-linecap="butt"/>
<rect x="833.20" y="2422.90" width="21.4" height="21.4" fill="#ff0000"/>
<rect x="840.55" y="2422.90" width="21.4" height="21.4" fill="#ff0000"/>
<rect x="847.90" y="2422.90" width="21.4" height="21.4" fill="#ff0000"/>
<rect x="855.25" y="2422.90" width="21.4" height="21.4" fill="#ff0000"/>
<rect x="862.60" y="2422.90" width="21.4" height="21.4" fill="#ff0000"/>
<rect x="842.60" y="2271.90" width="21.4" height="21.4" fill="#ff0000"/>
<rect x="842.60" y="2308.50" width="21.4" height="21.4" fill="#ff0000"/>
<circle cx="969.40" cy="2433.60" r="10.7" fill="#0000ff"/>
<circle cx="975.12" cy="2433.60" r="10.7" fill="#0000ff"/>
<circle cx="980.84" cy="2433.60" r="10.7" fill="#0000ff"/>
<circle cx="986.56" cy="2433.60" r="10.7" fill="#0000ff"/>
<circle cx="992.28" cy="2433.60" r="10.7" fill="#0000ff"/>
<circle cx="998.00" cy="2433.60" r="10.7" fill="#0000ff"/>
<rect x="1033.50" y="2422.90" width="21.4" height="21.4" fill="#ff0000"/>
<rect x="1040.85" y="2422.90" width="21.4" height="21.4" fill="#ff0000"/>
<rect x="1048.20" y="2422.90" width="21.4" height="21.4" fill="#ff0000"/>
<rect x="1055.55" y="2422.90" width="21.4" height="21.4" fill="#ff0000"/>
<rect x="1062.90" y="2422.90" width="21.4" height="21.4" fill="#ff0000"/>
<circle cx="981.30" cy="2036.70" r="10.7" fill="#0000ff"/>
<rect x="970.60" y="2095.60" width="21.4" height="21.4" fill="#ff0000"/>
<text transform="translate(1040.70,2050.70) scale(0.9270,1)" font-size="45.3" font-weight="normal" text-anchor="start" fill="#0000ff" letter-spacing="-1.2">None</text>
<text transform="translate(1039.70,2120.70) scale(0.9270,1)" font-size="45.3" font-weight="normal" text-anchor="start" fill="#ff0000">Aging</text>
<line x1="331.50" y1="2041.50" x2="331.50" y2="2567.80" stroke="#000" stroke-width="8" stroke-linecap="butt"/>
<line x1="309.00" y1="2563.80" x2="1115.00" y2="2563.80" stroke="#000" stroke-width="8" stroke-linecap="butt"/>
<line x1="309.00" y1="2563.80" x2="331.50" y2="2563.80" stroke="#000" stroke-width="8" stroke-linecap="butt"/>
<text transform="translate(303.20,2578.22) scale(0.9400,1)" font-size="41.2" font-weight="bold" text-anchor="end" fill="#000">−0.1</text>
<line x1="309.00" y1="2434.23" x2="331.50" y2="2434.23" stroke="#000" stroke-width="8" stroke-linecap="butt"/>
<text transform="translate(303.20,2448.65) scale(0.9400,1)" font-size="41.2" font-weight="bold" text-anchor="end" fill="#000">0.0</text>
<line x1="309.00" y1="2304.65" x2="331.50" y2="2304.65" stroke="#000" stroke-width="8" stroke-linecap="butt"/>
<text transform="translate(303.20,2319.07) scale(0.9400,1)" font-size="41.2" font-weight="bold" text-anchor="end" fill="#000">0.1</text>
<line x1="309.00" y1="2175.07" x2="331.50" y2="2175.07" stroke="#000" stroke-width="8" stroke-linecap="butt"/>
<text transform="translate(303.20,2189.49) scale(0.9400,1)" font-size="41.2" font-weight="bold" text-anchor="end" fill="#000">0.2</text>
<line x1="309.00" y1="2045.50" x2="331.50" y2="2045.50" stroke="#000" stroke-width="8" stroke-linecap="butt"/>
<text transform="translate(303.20,2059.92) scale(0.9400,1)" font-size="41.2" font-weight="bold" text-anchor="end" fill="#000">0.3</text>
<line x1="420.00" y1="2563.80" x2="420.00" y2="2586.80" stroke="#000" stroke-width="8" stroke-linecap="butt"/>
<text transform="translate(432.70,2623.80) rotate(-45) scale(0.9600,1)" font-size="41.2" font-weight="bold" text-anchor="end" fill="#000">Microhybrid</text>
<line x1="620.00" y1="2563.80" x2="620.00" y2="2586.80" stroke="#000" stroke-width="8" stroke-linecap="butt"/>
<text transform="translate(632.70,2623.80) rotate(-45) scale(0.9600,1)" font-size="41.2" font-weight="bold" text-anchor="end" fill="#000">Nanohybrid</text>
<line x1="820.30" y1="2563.80" x2="820.30" y2="2586.80" stroke="#000" stroke-width="8" stroke-linecap="butt"/>
<text transform="translate(833.00,2623.80) rotate(-45) scale(0.9600,1)" font-size="41.2" font-weight="bold" text-anchor="end" fill="#000">Nanofilled</text>
<line x1="1021.30" y1="2563.80" x2="1021.30" y2="2586.80" stroke="#000" stroke-width="8" stroke-linecap="butt"/>
<text transform="translate(1034.00,2623.80) rotate(-45) scale(0.9600,1)" font-size="41.2" font-weight="bold" text-anchor="end" fill="#000">Nanoflow</text>
<text transform="translate(213.40,2447.50) rotate(-90) scale(0.9120,1)" font-size="45.3" font-weight="bold" text-anchor="start" fill="#000">W<tspan dx="5">R</tspan><tspan dx="-17" dy="-3.5" font-size="42.4" font-weight="500">（</tspan><tspan dx="-1.6" dy="3.5">mg/mm</tspan><tspan font-size="32.3" dx="4.6" dy="-19.8">3</tspan><tspan dx="-0.1" dy="16.3" font-size="42.4" font-weight="500">）</tspan></text>
<text transform="translate(29.50,2016.30) scale(0.9730,1)" font-size="78.5" font-weight="normal" text-anchor="start" fill="#000">(e)</text>
<circle cx="1656.70" cy="2425.60" r="2.6" fill="#2e3584"/>
<circle cx="1672.13" cy="2425.60" r="2.6" fill="#2e3584"/>
<circle cx="1687.56" cy="2425.60" r="2.6" fill="#2e3584"/>
<circle cx="1702.99" cy="2425.60" r="2.6" fill="#2e3584"/>
<circle cx="1718.42" cy="2425.60" r="2.6" fill="#2e3584"/>
<circle cx="1733.85" cy="2425.60" r="2.6" fill="#2e3584"/>
<circle cx="1749.28" cy="2425.60" r="2.6" fill="#2e3584"/>
<circle cx="1764.71" cy="2425.60" r="2.6" fill="#2e3584"/>
<circle cx="1780.14" cy="2425.60" r="2.6" fill="#2e3584"/>
<circle cx="1795.57" cy="2425.60" r="2.6" fill="#2e3584"/>
<circle cx="1811.00" cy="2425.60" r="2.6" fill="#2e3584"/>
<circle cx="1826.43" cy="2425.60" r="2.6" fill="#2e3584"/>
<circle cx="1841.86" cy="2425.60" r="2.6" fill="#2e3584"/>
<circle cx="1857.29" cy="2425.60" r="2.6" fill="#2e3584"/>
<circle cx="1872.72" cy="2425.60" r="2.6" fill="#2e3584"/>
<circle cx="1888.15" cy="2425.60" r="2.6" fill="#2e3584"/>
<circle cx="1903.58" cy="2425.60" r="2.6" fill="#2e3584"/>
<circle cx="1919.01" cy="2425.60" r="2.6" fill="#2e3584"/>
<circle cx="1934.44" cy="2425.60" r="2.6" fill="#2e3584"/>
<circle cx="1949.87" cy="2425.60" r="2.6" fill="#2e3584"/>
<circle cx="1965.30" cy="2425.60" r="2.6" fill="#2e3584"/>
<circle cx="1980.73" cy="2425.60" r="2.6" fill="#2e3584"/>
<circle cx="1996.16" cy="2425.60" r="2.6" fill="#2e3584"/>
<circle cx="2011.59" cy="2425.60" r="2.6" fill="#2e3584"/>
<circle cx="2027.02" cy="2425.60" r="2.6" fill="#2e3584"/>
<circle cx="2042.45" cy="2425.60" r="2.6" fill="#2e3584"/>
<circle cx="2057.88" cy="2425.60" r="2.6" fill="#2e3584"/>
<circle cx="2073.31" cy="2425.60" r="2.6" fill="#2e3584"/>
<circle cx="2088.74" cy="2425.60" r="2.6" fill="#2e3584"/>
<circle cx="2104.17" cy="2425.60" r="2.6" fill="#2e3584"/>
<circle cx="2119.60" cy="2425.60" r="2.6" fill="#2e3584"/>
<circle cx="2135.03" cy="2425.60" r="2.6" fill="#2e3584"/>
<circle cx="2150.46" cy="2425.60" r="2.6" fill="#2e3584"/>
<circle cx="2165.89" cy="2425.60" r="2.6" fill="#2e3584"/>
<circle cx="2181.32" cy="2425.60" r="2.6" fill="#2e3584"/>
<circle cx="2196.75" cy="2425.60" r="2.6" fill="#2e3584"/>
<circle cx="2212.18" cy="2425.60" r="2.6" fill="#2e3584"/>
<circle cx="2227.61" cy="2425.60" r="2.6" fill="#2e3584"/>
<circle cx="2243.04" cy="2425.60" r="2.6" fill="#2e3584"/>
<circle cx="2258.47" cy="2425.60" r="2.6" fill="#2e3584"/>
<circle cx="2273.90" cy="2425.60" r="2.6" fill="#2e3584"/>
<circle cx="2289.33" cy="2425.60" r="2.6" fill="#2e3584"/>
<circle cx="2304.76" cy="2425.60" r="2.6" fill="#2e3584"/>
<circle cx="2320.19" cy="2425.60" r="2.6" fill="#2e3584"/>
<circle cx="2335.62" cy="2425.60" r="2.6" fill="#2e3584"/>
<circle cx="2351.05" cy="2425.60" r="2.6" fill="#2e3584"/>
<circle cx="2366.48" cy="2425.60" r="2.6" fill="#2e3584"/>
<circle cx="2381.91" cy="2425.60" r="2.6" fill="#2e3584"/>
<line x1="1690.70" y1="2288.30" x2="1690.70" y2="2480.00" stroke="#0000ff" stroke-width="2.6" stroke-linecap="butt"/>
<line x1="1678.70" y1="2288.30" x2="1702.70" y2="2288.30" stroke="#0000ff" stroke-width="2.6" stroke-linecap="butt"/>
<line x1="1678.70" y1="2480.00" x2="1702.70" y2="2480.00" stroke="#0000ff" stroke-width="2.6" stroke-linecap="butt"/>
<line x1="1666.20" y1="2383.30" x2="1715.20" y2="2383.30" stroke="#0000ff" stroke-width="4.8" stroke-linecap="butt"/>
<circle cx="1683.70" cy="2425.60" r="10.3" fill="#0000ff"/>
<circle cx="1690.70" cy="2425.60" r="10.3" fill="#0000ff"/>
<circle cx="1697.70" cy="2425.60" r="10.3" fill="#0000ff"/>
<circle cx="1704.70" cy="2425.60" r="10.3" fill="#0000ff"/>
<circle cx="1684.00" cy="2410.70" r="10.3" fill="#0000ff"/>
<circle cx="1677.00" cy="2425.60" r="10.3" fill="#0000ff"/>
<circle cx="1690.70" cy="2188.30" r="10.3" fill="#0000ff"/>
<line x1="1764.00" y1="2138.30" x2="1764.00" y2="2439.00" stroke="#ff0000" stroke-width="2.6" stroke-linecap="butt"/>
<line x1="1752.00" y1="2138.30" x2="1776.00" y2="2138.30" stroke="#ff0000" stroke-width="2.6" stroke-linecap="butt"/>
<line x1="1752.00" y1="2439.00" x2="1776.00" y2="2439.00" stroke="#ff0000" stroke-width="2.6" stroke-linecap="butt"/>
<line x1="1739.50" y1="2288.30" x2="1788.50" y2="2288.30" stroke="#ff0000" stroke-width="4.8" stroke-linecap="butt"/>
<rect x="1739.40" y="2415.30" width="20.6" height="20.6" fill="#ff0000"/>
<rect x="1746.55" y="2415.30" width="20.6" height="20.6" fill="#ff0000"/>
<rect x="1753.70" y="2415.30" width="20.6" height="20.6" fill="#ff0000"/>
<rect x="1760.85" y="2415.30" width="20.6" height="20.6" fill="#ff0000"/>
<rect x="1768.00" y="2415.30" width="20.6" height="20.6" fill="#ff0000"/>
<rect x="1753.40" y="2129.70" width="20.6" height="20.6" fill="#ff0000"/>
<rect x="1739.40" y="2143.40" width="20.6" height="20.6" fill="#ff0000"/>
<rect x="1768.00" y="2147.00" width="20.6" height="20.6" fill="#ff0000"/>
<circle cx="1871.70" cy="2425.60" r="10.3" fill="#0000ff"/>
<circle cx="1877.22" cy="2425.60" r="10.3" fill="#0000ff"/>
<circle cx="1882.74" cy="2425.60" r="10.3" fill="#0000ff"/>
<circle cx="1888.26" cy="2425.60" r="10.3" fill="#0000ff"/>
<circle cx="1893.78" cy="2425.60" r="10.3" fill="#0000ff"/>
<circle cx="1899.30" cy="2425.60" r="10.3" fill="#0000ff"/>
<line x1="1958.70" y1="2172.70" x2="1958.70" y2="2437.30" stroke="#ff0000" stroke-width="2.6" stroke-linecap="butt"/>
<line x1="1946.70" y1="2172.70" x2="1970.70" y2="2172.70" stroke="#ff0000" stroke-width="2.6" stroke-linecap="butt"/>
<line x1="1946.70" y1="2437.30" x2="1970.70" y2="2437.30" stroke="#ff0000" stroke-width="2.6" stroke-linecap="butt"/>
<line x1="1934.20" y1="2305.70" x2="1983.20" y2="2305.70" stroke="#ff0000" stroke-width="4.8" stroke-linecap="butt"/>
<rect x="1934.10" y="2415.30" width="20.6" height="20.6" fill="#ff0000"/>
<rect x="1941.25" y="2415.30" width="20.6" height="20.6" fill="#ff0000"/>
<rect x="1948.40" y="2415.30" width="20.6" height="20.6" fill="#ff0000"/>
<rect x="1955.55" y="2415.30" width="20.6" height="20.6" fill="#ff0000"/>
<rect x="1962.70" y="2415.30" width="20.6" height="20.6" fill="#ff0000"/>
<rect x="1948.40" y="2149.70" width="20.6" height="20.6" fill="#ff0000"/>
<rect x="1948.40" y="2187.40" width="20.6" height="20.6" fill="#ff0000"/>
<rect x="1962.40" y="2186.40" width="20.6" height="20.6" fill="#ff0000"/>
<line x1="2080.70" y1="2282.70" x2="2080.70" y2="2486.30" stroke="#0000ff" stroke-width="2.6" stroke-linecap="butt"/>
<line x1="2068.70" y1="2282.70" x2="2092.70" y2="2282.70" stroke="#0000ff" stroke-width="2.6" stroke-linecap="butt"/>
<line x1="2068.70" y1="2486.30" x2="2092.70" y2="2486.30" stroke="#0000ff" stroke-width="2.6" stroke-linecap="butt"/>
<line x1="2056.20" y1="2384.30" x2="2105.20" y2="2384.30" stroke="#0000ff" stroke-width="4.8" stroke-linecap="butt"/>
<circle cx="2066.70" cy="2425.60" r="10.3" fill="#0000ff"/>
<circle cx="2072.30" cy="2425.60" r="10.3" fill="#0000ff"/>
<circle cx="2077.90" cy="2425.60" r="10.3" fill="#0000ff"/>
<circle cx="2083.50" cy="2425.60" r="10.3" fill="#0000ff"/>
<circle cx="2089.10" cy="2425.60" r="10.3" fill="#0000ff"/>
<circle cx="2094.70" cy="2425.60" r="10.3" fill="#0000ff"/>
<circle cx="2080.70" cy="2176.70" r="10.3" fill="#0000ff"/>
<rect x="2129.20" y="2415.30" width="20.6" height="20.6" fill="#ff0000"/>
<rect x="2136.35" y="2415.30" width="20.6" height="20.6" fill="#ff0000"/>
<rect x="2143.50" y="2415.30" width="20.6" height="20.6" fill="#ff0000"/>
<rect x="2150.65" y="2415.30" width="20.6" height="20.6" fill="#ff0000"/>
<rect x="2157.80" y="2415.30" width="20.6" height="20.6" fill="#ff0000"/>
<circle cx="2261.50" cy="2425.60" r="10.3" fill="#0000ff"/>
<circle cx="2267.10" cy="2425.60" r="10.3" fill="#0000ff"/>
<circle cx="2272.70" cy="2425.60" r="10.3" fill="#0000ff"/>
<circle cx="2278.30" cy="2425.60" r="10.3" fill="#0000ff"/>
<circle cx="2283.90" cy="2425.60" r="10.3" fill="#0000ff"/>
<circle cx="2289.50" cy="2425.60" r="10.3" fill="#0000ff"/>
<rect x="2324.20" y="2415.30" width="20.6" height="20.6" fill="#ff0000"/>
<rect x="2331.35" y="2415.30" width="20.6" height="20.6" fill="#ff0000"/>
<rect x="2338.50" y="2415.30" width="20.6" height="20.6" fill="#ff0000"/>
<rect x="2345.65" y="2415.30" width="20.6" height="20.6" fill="#ff0000"/>
<rect x="2352.80" y="2415.30" width="20.6" height="20.6" fill="#ff0000"/>
<circle cx="2277.00" cy="2036.70" r="10.3" fill="#0000ff"/>
<rect x="2266.70" y="2094.40" width="20.6" height="20.6" fill="#ff0000"/>
<text transform="translate(2334.70,2050.00) scale(0.9270,1)" font-size="45.3" font-weight="normal" text-anchor="start" fill="#0000ff" letter-spacing="-1.5">None</text>
<text transform="translate(2334.70,2118.30) scale(0.9270,1)" font-size="45.3" font-weight="normal" text-anchor="start" fill="#ff0000" letter-spacing="-0.7">Aging</text>
<line x1="1641.70" y1="2043.20" x2="1641.70" y2="2556.20" stroke="#000" stroke-width="8" stroke-linecap="butt"/>
<line x1="1619.20" y1="2552.20" x2="2402.70" y2="2552.20" stroke="#000" stroke-width="8" stroke-linecap="butt"/>
<line x1="1619.20" y1="2552.20" x2="1641.70" y2="2552.20" stroke="#000" stroke-width="8" stroke-linecap="butt"/>
<text transform="translate(1613.40,2566.27) scale(0.9400,1)" font-size="40.2" font-weight="bold" text-anchor="end" fill="#000">−0.05</text>
<line x1="1619.20" y1="2425.95" x2="1641.70" y2="2425.95" stroke="#000" stroke-width="8" stroke-linecap="butt"/>
<text transform="translate(1613.40,2440.02) scale(0.9400,1)" font-size="40.2" font-weight="bold" text-anchor="end" fill="#000">0.00</text>
<line x1="1619.20" y1="2299.70" x2="1641.70" y2="2299.70" stroke="#000" stroke-width="8" stroke-linecap="butt"/>
<text transform="translate(1613.40,2313.77) scale(0.9400,1)" font-size="40.2" font-weight="bold" text-anchor="end" fill="#000">0.05</text>
<line x1="1619.20" y1="2173.45" x2="1641.70" y2="2173.45" stroke="#000" stroke-width="8" stroke-linecap="butt"/>
<text transform="translate(1613.40,2187.52) scale(0.9400,1)" font-size="40.2" font-weight="bold" text-anchor="end" fill="#000">0.10</text>
<line x1="1619.20" y1="2047.20" x2="1641.70" y2="2047.20" stroke="#000" stroke-width="8" stroke-linecap="butt"/>
<text transform="translate(1613.40,2061.27) scale(0.9400,1)" font-size="40.2" font-weight="bold" text-anchor="end" fill="#000">0.15</text>
<line x1="1727.30" y1="2552.20" x2="1727.30" y2="2575.20" stroke="#000" stroke-width="8" stroke-linecap="butt"/>
<text transform="translate(1740.00,2611.20) rotate(-45) scale(0.9600,1)" font-size="40.2" font-weight="bold" text-anchor="end" fill="#000">Microhybrid</text>
<line x1="1921.70" y1="2552.20" x2="1921.70" y2="2575.20" stroke="#000" stroke-width="8" stroke-linecap="butt"/>
<text transform="translate(1934.40,2611.20) rotate(-45) scale(0.9600,1)" font-size="40.2" font-weight="bold" text-anchor="end" fill="#000">Nanohybrid</text>
<line x1="2116.70" y1="2552.20" x2="2116.70" y2="2575.20" stroke="#000" stroke-width="8" stroke-linecap="butt"/>
<text transform="translate(2129.40,2611.20) rotate(-45) scale(0.9600,1)" font-size="40.2" font-weight="bold" text-anchor="end" fill="#000">Nanofilled</text>
<line x1="2312.00" y1="2552.20" x2="2312.00" y2="2575.20" stroke="#000" stroke-width="8" stroke-linecap="butt"/>
<text transform="translate(2324.70,2611.20) rotate(-45) scale(0.9600,1)" font-size="40.2" font-weight="bold" text-anchor="end" fill="#000">Nanoflow</text>
<text transform="translate(1500.30,2427.80) rotate(-90) scale(0.9250,1)" font-size="44.1" font-weight="bold" text-anchor="start" fill="#000">S<tspan dx="2">L</tspan><tspan dx="-15.5" dy="-3.4" font-size="41.3" font-weight="500">（</tspan><tspan dx="-3" dy="3.4">mg/mm</tspan><tspan font-size="31.4" dx="3" dy="-19.3">3</tspan><tspan dx="-0.1" dy="15.9" font-size="41.3" font-weight="500">）</tspan></text>
<text transform="translate(1324.30,1979.30)" font-size="78.5" font-weight="normal" text-anchor="start" fill="#000">(f)</text>
</svg>
</body>
</html>
